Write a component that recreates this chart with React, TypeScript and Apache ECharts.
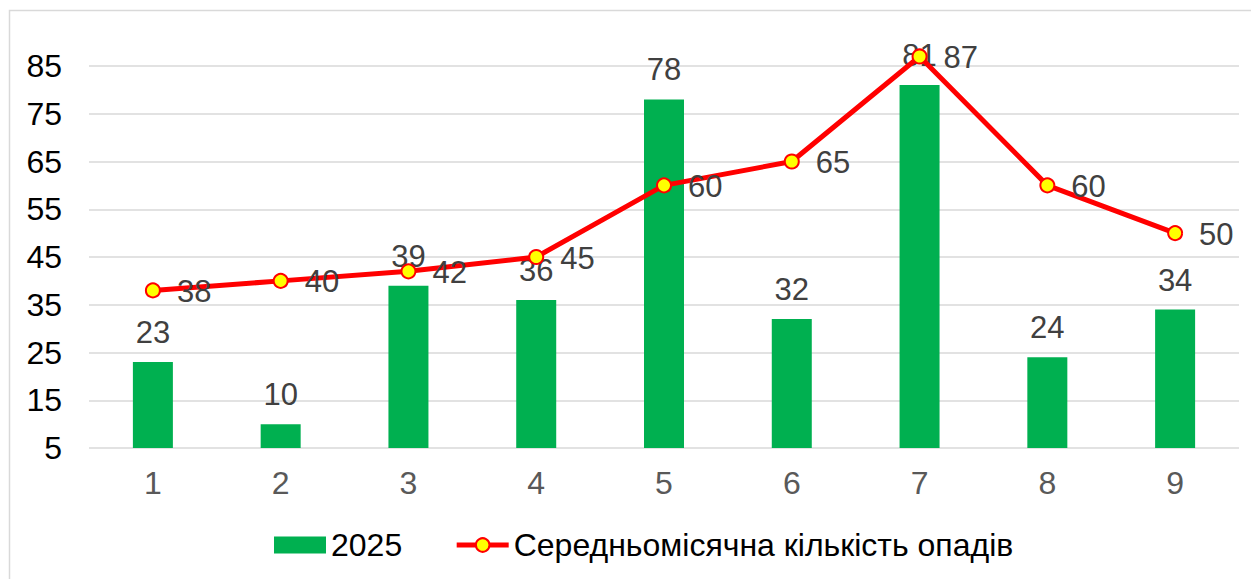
import React, { useEffect, useRef } from "react";
import * as echarts from "echarts";

const categories = ["1", "2", "3", "4", "5", "6", "7", "8", "9"];
const values2025 = [23, 10, 39, 36, 78, 32, 81, 24, 34];
const averageValues = [38, 40, 42, 45, 60, 65, 87, 60, 50];
const barName = "2025";
const lineName = "Середньомісячна кількість опадів";

export default function App() {
  const ref = useRef<HTMLDivElement>(null);
  useEffect(() => {
    if (!ref.current) return;
    const chart = echarts.init(ref.current, null, { renderer: "svg" });
    const font = "Liberation Sans, Arial, sans-serif";
    chart.setOption({
      animation: false,
      textStyle: { fontFamily: font },
      graphic: [
        {
          type: "rect",
          shape: { x: 1.5, y: 2.5, width: 1400, height: 700 },
          style: { fill: "none", stroke: "#d9d9d9", lineWidth: 1.5 },
          silent: true,
        },
      ],
      grid: { left: 81, top: 58, width: 1150, height: 382 },
      legend: {
        left: 266,
        top: 521,
        padding: 0,
        itemGap: 52,
        itemWidth: 52,
        itemHeight: 17,
        textStyle: { fontSize: 32, color: "#000", fontFamily: font },
        data: [
          { name: barName, icon: "rect" },
          { name: lineName, lineStyle: { width: 5, color: "#FF0000" } },
        ],
      },
      xAxis: {
        type: "category",
        data: categories,
        axisLine: { show: false },
        axisTick: { show: false },
        axisLabel: { fontSize: 32, color: "#595959", margin: 19, fontFamily: font },
      },
      yAxis: {
        type: "value",
        min: 5,
        max: 85,
        interval: 10,
        axisLine: { show: false },
        axisTick: { show: false },
        axisLabel: { fontSize: 32, color: "#000", margin: 27, fontFamily: font },
        splitLine: { lineStyle: { color: "#d9d9d9", width: 1.5 } },
      },
      series: [
        {
          name: barName,
          type: "bar",
          data: values2025,
          barWidth: 40,
          itemStyle: { color: "#00B050" },
          label: {
            show: true,
            position: "top",
            distance: 14,
            fontSize: 31,
            color: "#404040",
            fontFamily: font,
          },
        },
        {
          name: lineName,
          type: "line",
          data: averageValues,
          clip: false,
          symbol: "circle",
          symbolSize: 14,
          lineStyle: { color: "#FF0000", width: 5 },
          itemStyle: { color: "#FFFF00", borderColor: "#FF0000", borderWidth: 2 },
          label: {
            show: true,
            position: "right",
            offset: [11, 1],
            fontSize: 31,
            color: "#404040",
            fontFamily: font,
          },
        },
      ],
    });
    return () => chart.dispose();
  }, []);
  return <div ref={ref} style={{ width: 1251, height: 571 }} />;
}
